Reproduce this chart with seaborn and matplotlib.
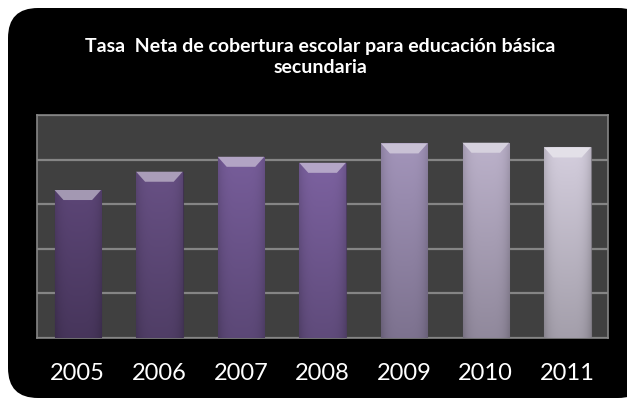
import numpy as np
import pandas as pd
import seaborn as sns
import matplotlib.pyplot as plt
from matplotlib.patches import FancyBboxPatch, Polygon

# Datos
anios = ["2005", "2006", "2007", "2008", "2009", "2010", "2011"]
tasa = [66.4, 74.6, 81.3, 78.6, 87.3, 87.6, 85.5]
colores = ["#583b7a", "#634588", "#71509e", "#7654a4", "#9b89b9", "#b4a7c7", "#ccc4d8"]

df = pd.DataFrame({"Año": anios, "Tasa": tasa})

sns.set_style("dark")
plt.rcParams["font.family"] = ["Lato", "DejaVu Sans"]

fig = plt.figure(figsize=(6.27, 4.01), dpi=100)
fig.patch.set_facecolor("white")

# Fondo negro redondeado
fondo = FancyBboxPatch((0.08, 0.03), 6.4, 3.90, boxstyle="round,pad=0,rounding_size=0.3",
                       transform=fig.dpi_scale_trans, facecolor="black", edgecolor="none", zorder=0)
fig.add_artist(fondo)

ax = fig.add_axes([0.059, 0.157, 0.911, 0.556])
ax.set_facecolor("#404040")

sns.barplot(data=df, x="Año", y="Tasa", hue="Año", palette=colores, legend=False,
            width=0.57, ax=ax, zorder=3)

# Degradado en cada barra
ny, nx = 100, 60
v = np.linspace(0, 1, ny)[:, None]          # 0 abajo, 1 arriba
u = np.linspace(-1, 1, nx)[None, :]
for patch in ax.patches:
    c = np.array(patch.get_facecolor()[:3])
    x0, y0 = patch.get_x(), patch.get_y()
    w, h = patch.get_width(), patch.get_height()
    f = 0.80 + 0.24 * v - 0.14 * np.abs(u) ** 4
    img = np.clip(c[None, None, :] * f[:, :, None], 0, 1)
    im = ax.imshow(img, extent=[x0, x0 + w, y0, y0 + h], origin="lower",
                   aspect="auto", zorder=4, interpolation="bilinear")
    im.set_clip_path(patch)
    # bisel superior
    dy = 4.5
    dx = 0.11
    claro = c + (1 - c) * 0.45
    bisel = Polygon([(x0, y0 + h), (x0 + w, y0 + h), (x0 + w - dx, y0 + h - dy), (x0 + dx, y0 + h - dy)],
                    closed=True, facecolor=claro, edgecolor="none", zorder=5)
    ax.add_patch(bisel)
    patch.set_edgecolor((c * 0.6).tolist() + [0.8])
    patch.set_linewidth(0.8)

ax.set_xlim(-0.5, 6.5)
ax.set_ylim(0, 100)
ax.set_yticks([0, 20, 40, 60, 80, 100])
ax.set_yticklabels([])
ax.grid(axis="y", color="#858585", linewidth=1.6, zorder=1)
ax.grid(axis="x", visible=False)
ax.set_axisbelow(True)
for s in ax.spines.values():
    s.set_color("#858585")
    s.set_linewidth(1.2)
ax.tick_params(axis="x", colors="white", labelsize=17, length=0, pad=18)
ax.tick_params(axis="y", length=0)
ax.set_xlabel("")
ax.set_ylabel("")

fig.text(0.511, 0.858, "Tasa  Neta de cobertura escolar para educación básica\nsecundaria",
         ha="center", va="center", color="white", fontsize=14, fontweight="bold",
         linespacing=1.25)

fig.savefig("out.png", dpi=100, facecolor="white")
